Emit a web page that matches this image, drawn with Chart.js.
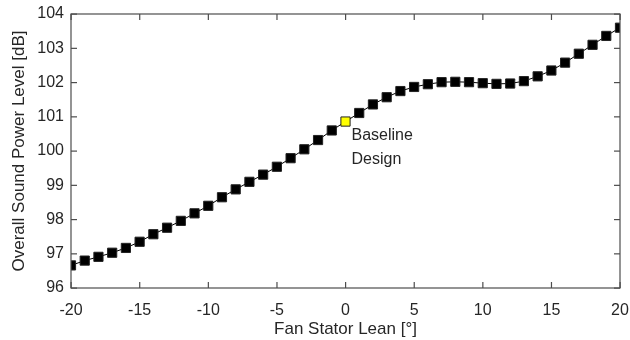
<!DOCTYPE html>
<html>
<head>
<meta charset="utf-8">
<script src="https://cdn.jsdelivr.net/npm/chart.js@4"></script>
<style>
  html, body { margin: 0; padding: 0; background: #fff; }
  #wrap { width: 630px; height: 340px; }
</style>
</head>
<body>
<div id="wrap"><canvas id="chart" width="630" height="340"></canvas></div>
<script>
// ângulo de inclinação do estator (graus)
const leanAngles = [-20, -19, -18, -17, -16, -15, -14, -13, -12, -11, -10, -9, -8, -7, -6, -5, -4, -3, -2, -1,
    0, 1, 2, 3, 4, 5, 6, 7, 8, 9, 10, 11, 12, 13, 14, 15, 16, 17, 18, 19, 20];
// nível de potência sonora global [dB]
const soundLevels = [96.66, 96.80, 96.91, 97.03, 97.17, 97.35, 97.57, 97.76, 97.96, 98.18, 98.40, 98.65, 98.88, 99.10, 99.31, 99.54, 99.79, 100.05, 100.32, 100.60,
    100.86, 101.11, 101.36, 101.57, 101.75, 101.87, 101.95, 102.01, 102.02, 102.01, 101.98, 101.96, 101.97, 102.04, 102.18, 102.35, 102.58, 102.84, 103.10, 103.36, 103.60];
const baselineAngle = 0;
const baselineLabel = ['Baseline', 'Design'];
const xTicks = [-20, -15, -10, -5, 0, 5, 10, 15, 20];
const yTicks = [96, 97, 98, 99, 100, 101, 102, 103, 104];

const axisColor = '#262626';
const boxColor = '#4d4d4d';
const fontFamily = "'Liberation Sans', Arial, sans-serif";

const points = leanAngles.map((x, i) => ({ x: x, y: soundLevels[i] }));

// Plugin para a caixa, ticks internos e rótulo do projeto base
const boxPlugin = {
    id: 'boxPlugin',
    afterDraw(chart) {
        const ctx = chart.ctx;
        const a = chart.chartArea;
        const xs = chart.scales.x;
        const ys = chart.scales.y;
        const len = 6;
        ctx.save();
        ctx.strokeStyle = boxColor;
        ctx.lineWidth = 1.2;
        ctx.strokeRect(a.left, a.top, a.right - a.left, a.bottom - a.top);
        ctx.fillStyle = boxColor;
        xTicks.forEach(v => {
            const px = xs.getPixelForValue(v) - 0.5;
            ctx.fillRect(px, a.bottom - len, 1.2, len);
            ctx.fillRect(px, a.top, 1.2, len);
        });
        yTicks.forEach(v => {
            const py = ys.getPixelForValue(v) - 0.5;
            ctx.fillRect(a.left, py, len, 1.2);
            ctx.fillRect(a.right - len, py, len, 1.2);
        });

        const idx = leanAngles.indexOf(baselineAngle);
        const bx = xs.getPixelForValue(baselineAngle);
        const by = ys.getPixelForValue(soundLevels[idx]);
        ctx.fillStyle = axisColor;
        ctx.font = '16px ' + fontFamily;
        ctx.textAlign = 'left';
        ctx.textBaseline = 'middle';
        ctx.fillText(baselineLabel[0], bx + 6, by + 14);
        ctx.fillText(baselineLabel[1], bx + 6, by + 38);
        ctx.restore();
    }
};

new Chart(document.getElementById('chart').getContext('2d'), {
    type: 'scatter',
    data: {
        datasets: [{
            data: points,
            showLine: true,
            borderColor: '#000',
            borderWidth: 1,
            pointStyle: 'rect',
            pointRadius: 6.5,
            pointHoverRadius: 6.5,
            pointBorderWidth: 1,
            pointBorderColor: '#222',
            pointBackgroundColor: leanAngles.map(a => a === baselineAngle ? '#ffff00' : '#000')
        }]
    },
    options: {
        responsive: false,
        animation: false,
        layout: { padding: { top: 14, right: 10, left: 0, bottom: 0 } },
        plugins: {
            legend: { display: false },
            tooltip: { enabled: false }
        },
        scales: {
            x: {
                type: 'linear',
                min: xTicks[0],
                max: xTicks[xTicks.length - 1],
                grid: { display: false, drawTicks: false },
                border: { display: false },
                ticks: { stepSize: 5, color: axisColor, font: { size: 16, family: fontFamily }, padding: 13, maxRotation: 0 },
                title: { display: true, text: 'Fan Stator Lean [°]', color: axisColor, font: { size: 17, family: fontFamily }, padding: { top: 0, bottom: 0 } },
                afterFit: s => { s.height = 52; s.paddingLeft = 0; s.paddingRight = 0; }
            },
            y: {
                min: yTicks[0],
                max: yTicks[yTicks.length - 1],
                grid: { display: false, drawTicks: false },
                border: { display: false },
                ticks: { stepSize: 1, color: axisColor, font: { size: 16, family: fontFamily }, padding: 7 },
                title: { display: true, text: 'Overall Sound Power Level [dB]', color: axisColor, font: { size: 17, family: fontFamily }, padding: { top: 9, bottom: 0 } },
                afterFit: s => { s.width = 71; s.paddingTop = 0; s.paddingBottom = 0; }
            }
        }
    },
    plugins: [boxPlugin]
});
</script>
</body>
</html>
